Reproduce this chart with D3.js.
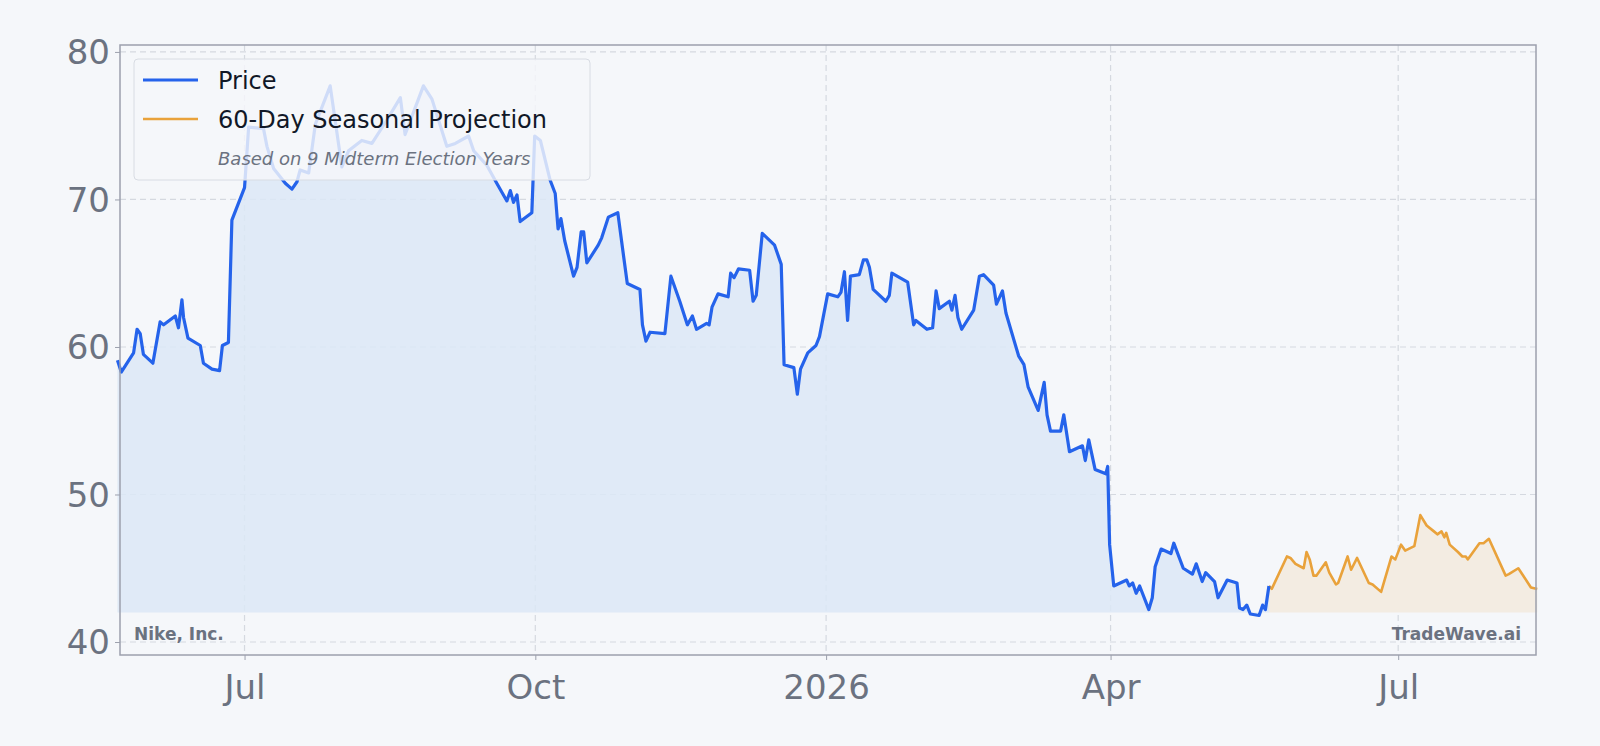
<!DOCTYPE html>
<html><head><meta charset="utf-8">
<script src="https://cdn.jsdelivr.net/npm/d3@7"></script>
<style>body{margin:0;background:#f5f7fa}svg{display:block}text{font-family:"DejaVu Sans",sans-serif}</style>
</head><body><svg id="c" width="1600" height="746"></svg>
<script>
// day offsets from 2025-07-01, price values
const baseDate = "2025-07-01";
const priceDays = [-40.2,-39,-35.1,-34,-33,-32,-29,-26.7,-25.6,-21.9,-20.9,-19.8,-19.3,-17.9,-14,-13,-10.3,-7.9,-7,-5.1,-4,0,1.3,6,7.1,9.2,12.9,15,16.6,17.6,20.3,22.4,27.1,30.8,32.9,37.1,40.3,44.5,49.3,50.8,56.6,59.3,64,66.7,70.9,72.5,76.7,79.8,83,84.1,85.1,86.2,87.2,90.9,91.8,93.6,96.7,98.3,99.2,100.1,101.3,104.1,105.2,106.5,107.3,108.3,
111.9,113,115.1,118.1,119.9,121.1,125.1,125.9,127,128.3,133,134.9,137.7,140.1,141.7,143,146.2,147,147.9,149.8,153,153.8,154.9,156.3,159.8,160.9,161.9,163.8,167.7,169.8,170.7,173.8,174.9,175.9,178.2,180.8,181.9,184.5,187.7,188.7,189.8,190.8,191.7,194.5,195.8,196.9,197.7,198.9,202.9,204,204.8,209.8,211.7,212.4,215.9,217.7,218.8,219.8,223,223.8,224.8,225.7,226.9,230.7,232.5,233.8,237,237.9,239.8,240.9,
244.9,246.6,247.9,251.1,253,253.9,255,258.2,259.2,261,265.1,266,267.1,269.1,272.5,273.1,273.7,275,279.1,279.9,281,282.1,283.2,286.1,287.2,288.1,290,293.1,294,297,299.9,301.1,303,304.1,306.9,308,310.9,314,314.8,315.9,317.1,318.2,321,322.1,323,324.1];
const priceValues = [59.1,58.3,59.6,61.2,60.9,59.5,58.9,61.7,61.5,62.1,61.3,63.2,62,60.6,60.1,58.9,58.5,58.4,60.1,60.3,68.6,70.8,74.9,74.8,73.6,72.1,71.1,70.7,71.2,72,71.8,75.1,77.7,72.2,73.3,74,73.8,75.2,76.9,74.4,77.7,76.8,73.6,73.8,74.3,73.3,72.3,71.1,69.9,70.6,69.8,70.3,68.5,69.1,74.3,74,71.3,70.4,68,68.7,67.2,64.8,65.4,67.8,67.8,65.7,
66.9,67.4,68.8,69.1,66.2,64.3,63.9,61.5,60.4,61,60.9,64.8,63.1,61.5,62.1,61.2,61.6,61.5,62.7,63.6,63.4,65,64.7,65.3,65.2,63.1,63.5,67.7,66.9,65.6,58.8,58.6,56.8,58.5,59.6,60.1,60.7,63.6,63.4,63.7,65.1,61.8,64.8,64.9,65.9,65.9,65.4,63.9,63.1,63.5,65,64.4,61.5,61.8,61.2,61.3,63.8,62.6,63.1,62.5,63.5,62,61.2,62.5,64.8,64.9,64.2,62.9,63.8,62.3,
59.4,58.8,57.3,55.7,57.6,55.4,54.3,54.3,55.4,52.9,53.3,52.3,53.7,51.7,51.4,51.9,46.6,43.8,44.2,43.8,44,43.3,43.8,42.2,43,45.1,46.3,46,46.7,45,44.6,45.3,44.1,44.7,44.1,43,44.2,44,42.3,42.2,42.5,41.9,41.8,42.5,42.2,43.8];
const projDays = [324.1,325,329.8,330.9,332.5,335.1,336,337,338.2,339.1,342.1,343.2,345.3,346,349,350.1,352,355.7,356.9,359.6,362.9,364.1,365.9,367.2,370.1,372,374,376.3,377.4,378.7,379.6,380.2,381.3,383.9,385.3,386.4,387,390.7,392,393.7,399,400,403,407,409];
const projValues = [43.8,43.6,45.8,45.7,45.3,45,46.1,45.6,44.5,44.5,45.4,44.7,43.9,44,45.8,44.9,45.7,44,43.9,43.4,45.8,45.6,46.6,46.2,46.5,48.6,47.9,47.5,47.3,47.5,47.1,47.4,46.6,46.1,45.8,45.8,45.6,46.7,46.7,47,44.5,44.6,45,43.7,43.6];
const xTickDates = ["2025-07-01","2025-10-01","2026-01-01","2026-04-01","2026-07-01"];
const xTickLabels = ["Jul","Oct","2026","Apr","Jul"];
const yTicks = [40,50,60,70,80];
const domainDays = [-39.4, 408.6];
const yDomain = [39.12, 80.47];
const fillBase = 42;

const svg = d3.select("#c");
const L=120,R=1536,T=45,B=655;
const base = d3.isoParse(baseDate+"T00:00:00");
const toDate = d => new Date(base.getTime()+d*864e5);
const x = d3.scaleTime().domain(domainDays.map(toDate)).range([L,R]);
const y = d3.scaleLinear().domain(yDomain).range([B,T]);
svg.append("rect").attr("width",1600).attr("height",746).attr("fill","#f5f7fa");
const tickD = xTickDates.map(s=>d3.isoParse(s+"T00:00:00"));
const g = svg.append("g");
// grid
g.selectAll(".gx").data(tickD).join("line").attr("x1",d=>x(d)).attr("x2",d=>x(d)).attr("y1",T).attr("y2",B)
 .attr("stroke","#d5d9e0").attr("stroke-dasharray","6,4").attr("stroke-width",1.2);
g.selectAll(".gy").data(yTicks).join("line").attr("y1",d=>y(d)).attr("y2",d=>y(d)).attr("x1",L).attr("x2",R)
 .attr("stroke","#d5d9e0").attr("stroke-dasharray","6,4").attr("stroke-width",1.2);
const price = priceDays.map((d,i)=>({d:toDate(d),v:priceValues[i]}));
const proj = projDays.map((d,i)=>({d:toDate(d),v:projValues[i]}));
const area = d3.area().x(p=>x(p.d)).y0(y(fillBase)).y1(p=>y(p.v));
const line = d3.line().x(p=>x(p.d)).y(p=>y(p.v));
svg.append("path").attr("d",area(price)).attr("fill","#dce8f6").attr("opacity",0.85);
svg.append("path").attr("d",area(proj)).attr("fill","#f3ece2");
svg.append("path").attr("d",line(proj)).attr("fill","none").attr("stroke","#e9a23b").attr("stroke-width",2.6).attr("stroke-linejoin","round");
svg.append("path").attr("d",line(price)).attr("fill","none").attr("stroke","#2563eb").attr("stroke-width",3.2).attr("stroke-linejoin","round");
// frame
svg.append("rect").attr("x",L).attr("y",T).attr("width",R-L).attr("height",B-T).attr("fill","none").attr("stroke","#9ca0ad").attr("stroke-width",1.5);
// axes
const xa = svg.append("g").attr("transform",`translate(0,${B})`).call(d3.axisBottom(x).tickValues(tickD).tickFormat((d,i)=>xTickLabels[i]).tickSize(5));
const ya = svg.append("g").attr("transform",`translate(${L},0)`).call(d3.axisLeft(y).tickValues(yTicks).tickSize(5));
[xa,ya].forEach(a=>{a.select(".domain").remove();a.selectAll("line").attr("stroke","#9ca0ad");a.selectAll("text").attr("fill","#6b7280").style("font-size","34px").style("font-family","DejaVu Sans");});
xa.selectAll("text").attr("dy","1.05em");
ya.selectAll("text").attr("dy","0.35em").attr("x",-10);
// legend
const lg = svg.append("g");
lg.append("rect").attr("x",134).attr("y",59).attr("width",456).attr("height",121).attr("rx",4).attr("fill","#f5f7fa").attr("fill-opacity",0.82).attr("stroke","#d8dce3");
lg.append("line").attr("x1",143).attr("x2",198).attr("y1",80).attr("y2",80).attr("stroke","#2563eb").attr("stroke-width",3.2);
lg.append("line").attr("x1",143).attr("x2",198).attr("y1",119).attr("y2",119).attr("stroke","#e9a23b").attr("stroke-width",2.6);
lg.append("text").attr("x",218).attr("y",89).text("Price").attr("fill","#111827").style("font-size","24px");
lg.append("text").attr("x",218).attr("y",128).text("60-Day Seasonal Projection").attr("fill","#111827").style("font-size","24px");
lg.append("text").attr("x",218).attr("y",165).text("Based on 9 Midterm Election Years").attr("fill","#6b7280").style("font-size","18px").style("font-style","italic");
svg.append("text").attr("x",134).attr("y",640).text("Nike, Inc.").attr("fill","#6b7280").style("font-size","17px").style("font-weight","bold");
svg.append("text").attr("x",1521).attr("y",640).attr("text-anchor","end").text("TradeWave.ai").attr("fill","#6b7280").style("font-size","17px").style("font-weight","bold");
</script></body></html>
